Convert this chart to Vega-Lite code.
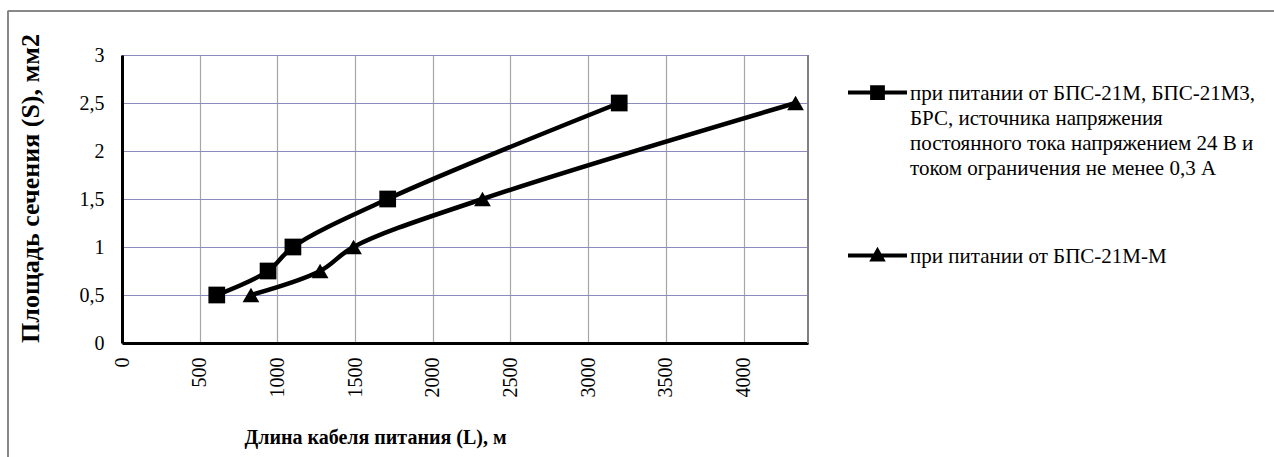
{
  "$schema": "https://vega.github.io/schema/vega-lite/v6.json",
  "autosize": "none",
  "width": 686,
  "height": 288,
  "padding": {"left": 122, "top": 55, "right": 466, "bottom": 114},
  "background": "white",
  "config": {
    "font": "Liberation Serif",
    "view": {"stroke": "black", "strokeWidth": 1},
    "axis": {"labelFont": "Liberation Serif", "titleFont": "Liberation Serif", "labelColor": "black", "titleColor": "black", "ticks": false},
    "legend": {"labelFont": "Liberation Serif", "titleFont": "Liberation Serif"},
    "style": {"guide-label": {"lineHeight": 25}}
  },
  "data": {
    "values": [
      {"L": 610, "S": 0.5, "series": "A"},
      {"L": 940, "S": 0.75, "series": "A"},
      {"L": 1100, "S": 1.0, "series": "A"},
      {"L": 1710, "S": 1.5, "series": "A"},
      {"L": 3200, "S": 2.5, "series": "A"},
      {"L": 830, "S": 0.5, "series": "B"},
      {"L": 1275, "S": 0.75, "series": "B"},
      {"L": 1490, "S": 1.0, "series": "B"},
      {"L": 2320, "S": 1.5, "series": "B"},
      {"L": 4335, "S": 2.5, "series": "B"}
    ]
  },
  "resolve": {"scale": {"shape": "independent"}},
  "layer": [
    {
      "mark": {"type": "rule", "color": "#888888", "strokeWidth": 1.5},
      "encoding": {
        "x": {"datum": -734, "type": "quantitative"},
        "y": {"datum": 3.458, "type": "quantitative"},
        "y2": {"datum": -2}
      }
    },
    {
      "mark": {"type": "rule", "color": "#888888", "strokeWidth": 1.5},
      "encoding": {
        "y": {"datum": 3.458, "type": "quantitative"},
        "x": {"datum": -734, "type": "quantitative"},
        "x2": {"datum": 9000}
      }
    },
    {
      "mark": {"type": "line", "strokeWidth": 4.5, "color": "black", "interpolate": "catmull-rom"},
      "encoding": {
        "x": {
          "field": "L", "type": "quantitative",
          "scale": {"domain": [0, 4415], "nice": false},
          "axis": {
            "values": [0, 500, 1000, 1500, 2000, 2500, 3000, 3500, 4000],
            "format": "d",
            "title": "Длина кабеля питания (L), м",
            "titleFontSize": 20, "titleFontWeight": "bold",
            "titleX": 253, "titleY": 94, "titleAlign": "center", "titleBaseline": "middle", "titleAnchor": null,
            "labelAngle": -90, "labelAlign": "right", "labelBaseline": "middle", "labelFontSize": 20, "labelPadding": 14,
            "domainColor": "black", "domainWidth": 3,
            "grid": true, "gridColor": "#a6a6a6", "gridWidth": 1.2, "gridOpacity": 1
          }
        },
        "y": {
          "field": "S", "type": "quantitative",
          "scale": {"domain": [0, 3], "nice": false},
          "axis": {
            "values": [0, 0.5, 1, 1.5, 2, 2.5, 3],
            "labelExpr": "replace(format(datum.value, ''), '.', ',')",
            "title": "Площадь сечения (S), мм2",
            "titleFontSize": 26, "titleFontWeight": "bold",
            "titleAngle": -90, "titleX": -92, "titleY": 133, "titleAlign": "center", "titleBaseline": "middle", "titleAnchor": null,
            "labelFontSize": 20, "labelPadding": 18,
            "domainColor": "black", "domainWidth": 3,
            "grid": true, "gridColor": "#8c8cbc", "gridWidth": 1.2, "gridOpacity": 1
          }
        },
        "detail": {"field": "series"}
      }
    },
    {
      "mark": {"type": "point", "filled": true, "opacity": 1, "color": "black", "size": 280},
      "encoding": {
        "x": {"field": "L", "type": "quantitative"},
        "y": {"field": "S", "type": "quantitative"},
        "shape": {
          "field": "series", "type": "nominal",
          "scale": {"domain": ["A", "B"], "range": ["square", "triangle-up"]},
          "legend": null
        }
      }
    },
    {
      "mark": {"type": "point", "filled": true, "color": "black", "size": 0, "strokeWidth": 0},
      "encoding": {
        "x": {"field": "L", "type": "quantitative"},
        "y": {"field": "S", "type": "quantitative"},
        "shape": {
          "field": "series", "type": "nominal",
          "scale": {"domain": ["A", "B"], "range": ["M-1,-0.307H1V-0.167H-1Z M-0.25,-0.487H0.25V0.013H-0.25Z", "M-1,-0.307H1V-0.167H-1Z M0,-0.537L0.28,-0.037H-0.28Z"]},
          "legend": {
            "orient": "none", "legendX": 726, "legendY": 15, "title": null,
            "symbolSize": 3481, "symbolFillColor": "black", "symbolStrokeWidth": 0, "symbolOpacity": 1,
            "labelFont": "Liberation Serif", "labelFontSize": 21, "labelColor": "black", "labelLimit": 0,
            "labelOffset": 3, "labelBaseline": "alphabetic", "rowPadding": 54,
            "labelExpr": "datum.value == 'A' ? ['при питании от БПС-21М, БПС-21М3,', 'БРС, источника напряжения', 'постоянного тока напряжением 24 В и', 'током ограничения не менее 0,3 А'] : 'при питании от БПС-21М-М'"
          }
        }
      }
    },
    {
      "mark": {"type": "rule", "color": "#808080", "strokeWidth": 2},
      "encoding": {
        "x": {"datum": 4415, "type": "quantitative"},
        "y": {"datum": 0, "type": "quantitative"},
        "y2": {"datum": 3}
      }
    }
  ]
}
